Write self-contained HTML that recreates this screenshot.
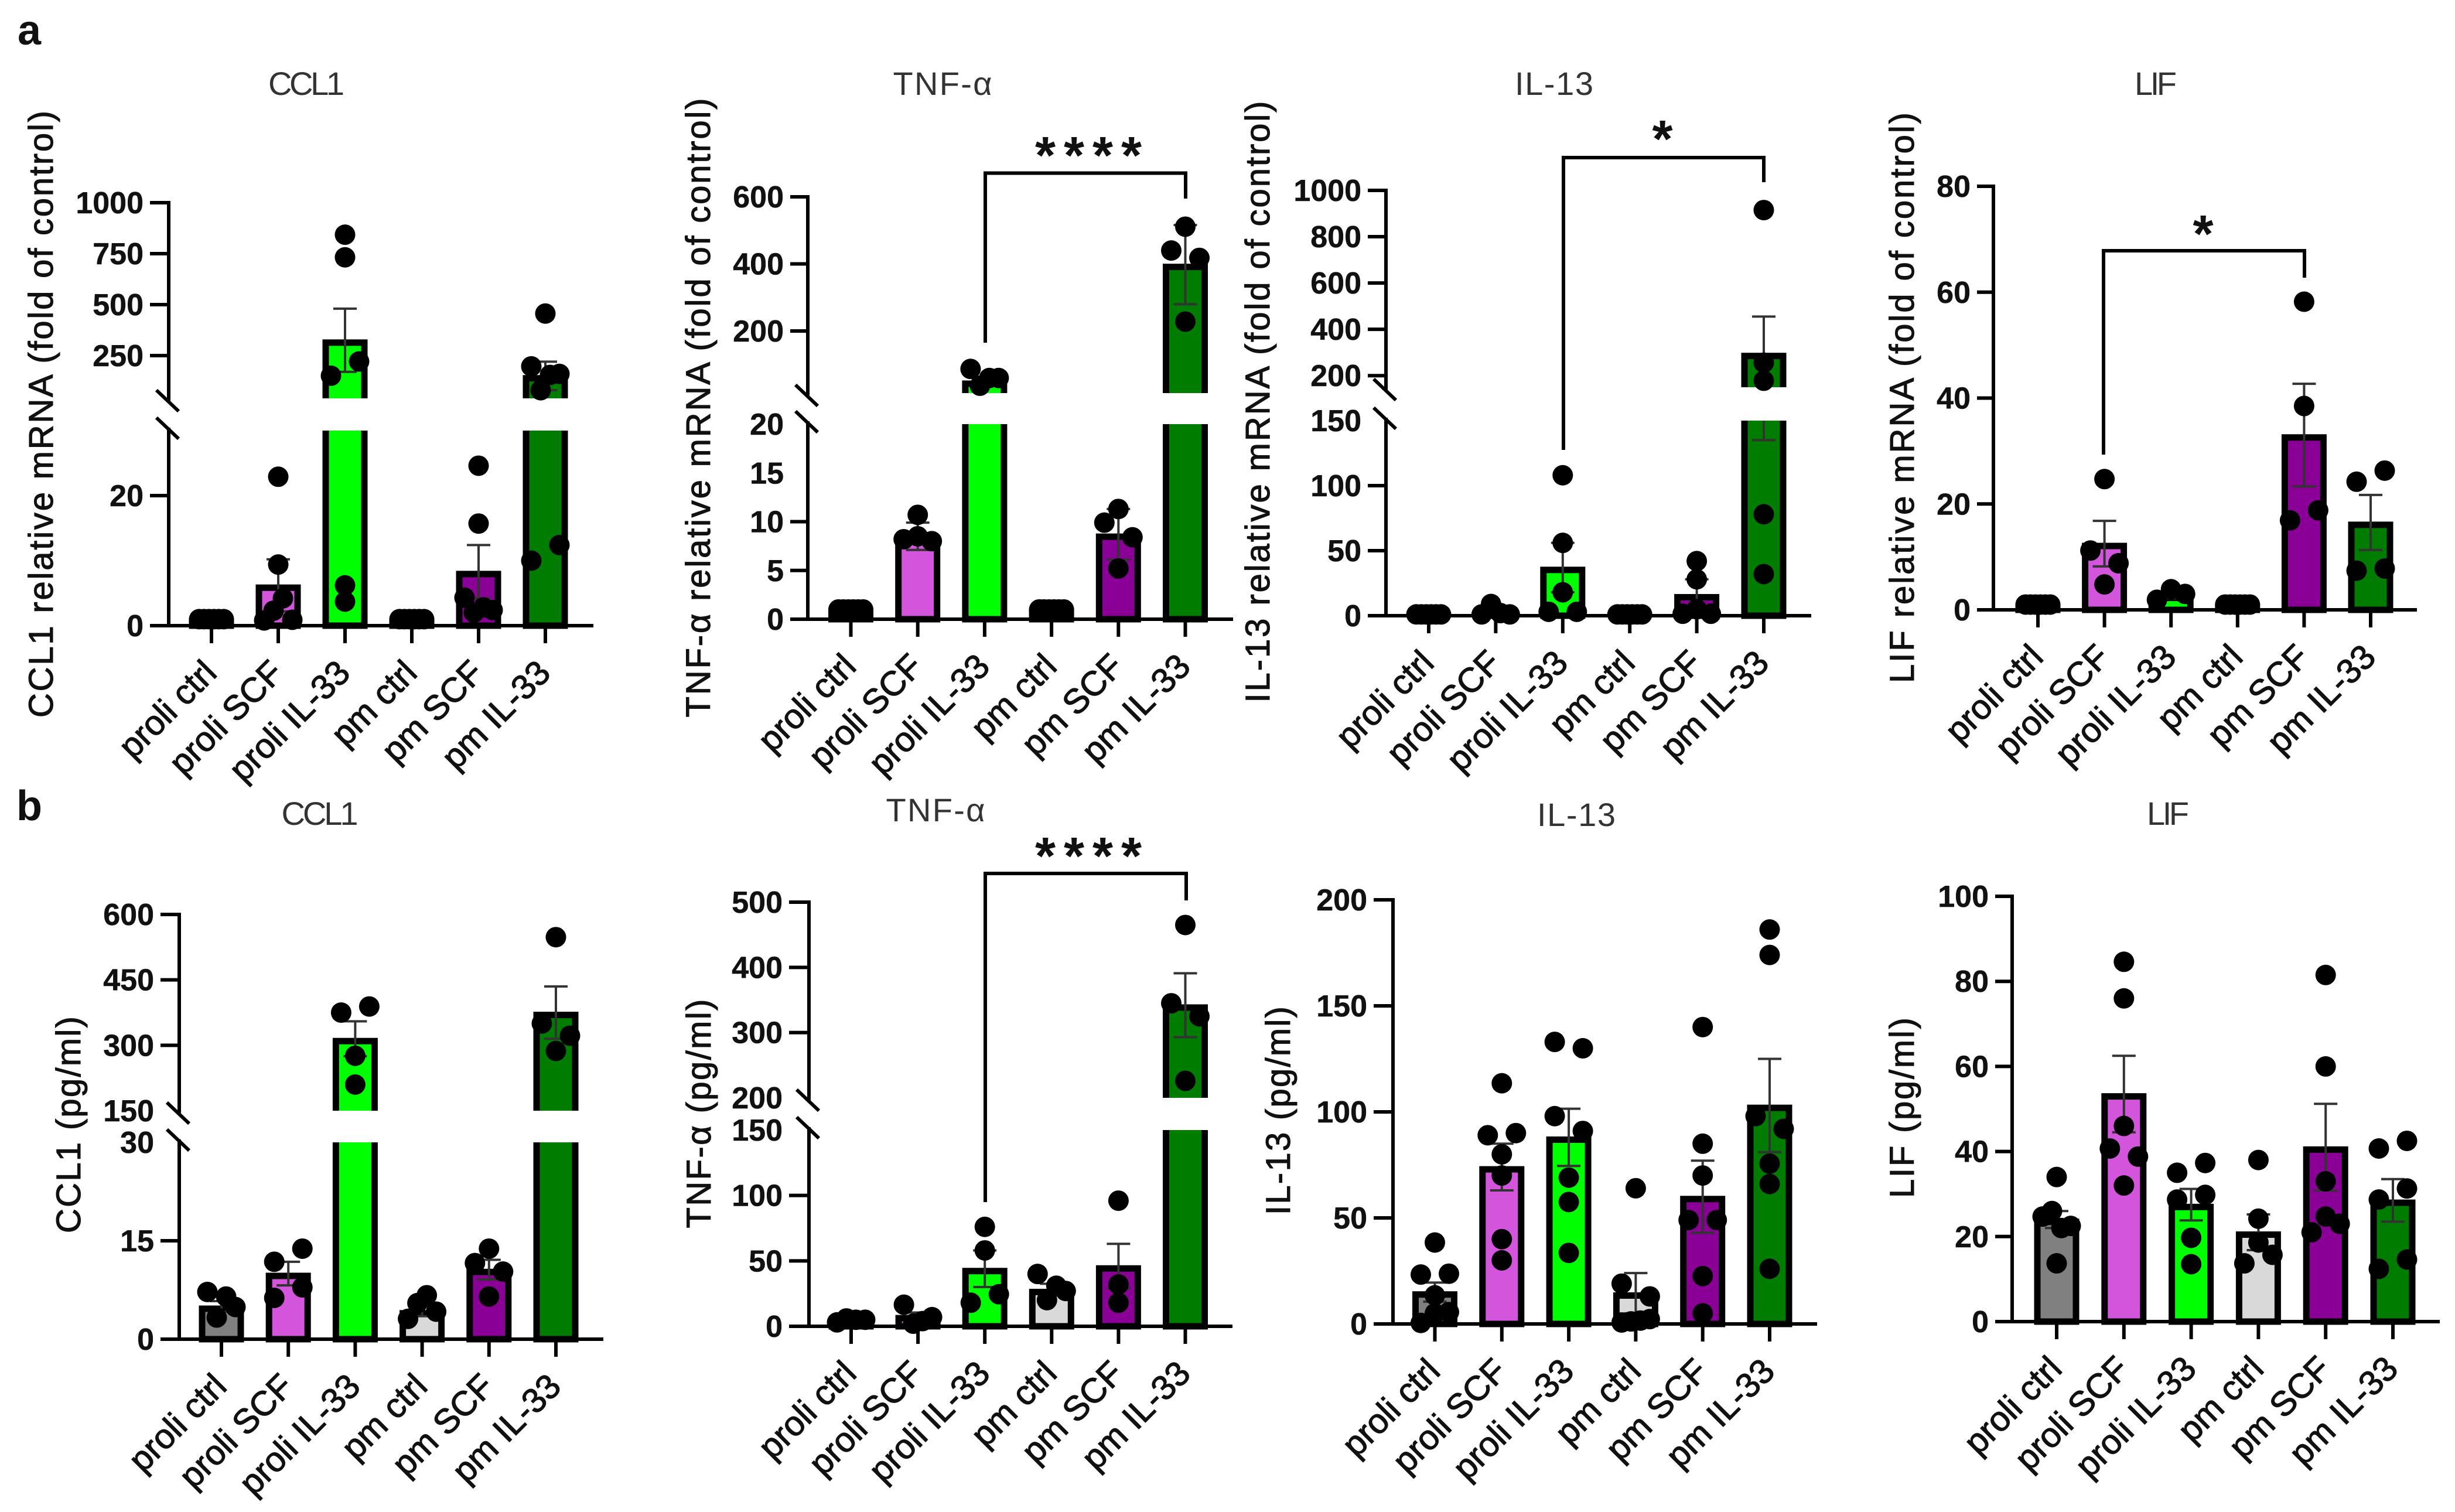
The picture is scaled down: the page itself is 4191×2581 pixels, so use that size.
<!DOCTYPE html>
<html lang="en">
<head>
<meta charset="utf-8">
<title>Cytokine mRNA and protein bar charts</title>
<style>
html,body{margin:0;padding:0;background:#fff;}
svg{display:block;}
text{font-family:"Liberation Sans",Arial,sans-serif;}
.panel-letter{font-size:72px;font-weight:bold;fill:#111;}
.chart-title{font-size:56px;fill:#333;text-anchor:middle;}
.y-title{font-size:58px;fill:#111;text-anchor:middle;stroke:#111;stroke-width:1.1px;}
.stars{font-size:90px;font-weight:bold;fill:#111;text-anchor:middle;}
.bracket{fill:none;stroke:#000;stroke-width:6px;}
.tick-label{font-size:52px;font-weight:bold;fill:#111;text-anchor:end;stroke:#111;stroke-width:.5px;}
.cat-label{font-size:59px;fill:#111;text-anchor:end;stroke:#111;stroke-width:1.2px;}
</style>
</head>
<body>
<svg id="figure" width="4191" height="2581" viewBox="0 0 4191 2581" xmlns="http://www.w3.org/2000/svg">
  <rect width="4191" height="2581" fill="#fff"/>
  <text class="panel-letter" x="30" y="76">a</text>
  <text class="panel-letter" x="28" y="1400">b</text>

  <text class="chart-title" x="523" y="162" textLength="130">CCL1</text>
  <text class="chart-title" x="1609" y="162" textLength="169">TNF-α</text>
  <text class="chart-title" x="2653" y="162" textLength="134">IL-13</text>
  <text class="chart-title" x="3680" y="162" textLength="72">LIF</text>
  <text class="chart-title" x="546" y="1408" textLength="131">CCL1</text>
  <text class="chart-title" x="1597" y="1402" textLength="169">TNF-α</text>
  <text class="chart-title" x="2691" y="1410" textLength="134">IL-13</text>
  <text class="chart-title" x="3701" y="1408" textLength="72">LIF</text>

  <text class="y-title" transform="translate(90,707) rotate(-90)" textLength="1036">CCL1 relative mRNA (fold of control)</text>
  <text class="y-title" transform="translate(1212,696) rotate(-90)" textLength="1057">TNF-α relative mRNA (fold of control)</text>
  <text class="y-title" transform="translate(2167,686) rotate(-90)" textLength="1027">IL-13 relative mRNA (fold of control)</text>
  <text class="y-title" transform="translate(3267,679) rotate(-90)" textLength="974">LIF relative mRNA (fold of control)</text>
  <text class="y-title" transform="translate(137,1920) rotate(-90)" textLength="370">CCL1 (pg/ml)</text>
  <text class="y-title" transform="translate(1213,1901) rotate(-90)" textLength="391">TNF-α (pg/ml)</text>
  <text class="y-title" transform="translate(2202,1896) rotate(-90)" textLength="356">IL-13 (pg/ml)</text>
  <text class="y-title" transform="translate(3267,1891) rotate(-90)" textLength="308">LIF (pg/ml)</text>

  <g id="charts"></g>

  <path class="bracket" d="M1682 585V295.500H2024V339"/>
  <text class="stars" x="1858" y="296" textLength="182">****</text>
  <path class="bracket" d="M2669 768V269H3011V311"/>
  <text class="stars" x="2838" y="268">*</text>
  <path class="bracket" d="M3591 776V428H3934V474"/>
  <text class="stars" x="3761" y="430">*</text>
  <path class="bracket" d="M1682 2052V1491H2025V1537"/>
  <text class="stars" x="1858" y="1492" textLength="182">****</text>
</svg>

<script>
const categories = ['proli ctrl', 'proli SCF', 'proli IL-33', 'pm ctrl', 'pm SCF', 'pm IL-33'];
const categorySlugs = ['proli-ctrl', 'proli-scf', 'proli-il33', 'pm-ctrl', 'pm-scf', 'pm-il33'];
const barColors = ['#808080', '#d355dc', '#00ff00', '#d9d9d9', '#8a0096', '#007d00'];

const mrnaCcl1Means = [1, 6.2, 325, 1, 8.3, 150];
const mrnaCcl1Sems = [0, 4, 155, 0, 4.1, 70];
const mrnaCcl1Points = [[1, 1, 1, 1, 1, 1], [22.9, 9.4, 0.8, 2.3, 4.2, 0.9], [843, 732, 151, 221, 6.2, 3.7], [1, 1, 1, 1, 1, 1], [24.6, 15.7, 4.3, 2, 2.8, 2.4], [456, 197, 80, 155, 160, 10, 12.4]];
const mrnaCcl1Ticks = [0, 20, 250, 500, 750, 1000];
const mrnaCcl1LowerDomain = [0, 30];
const mrnaCcl1UpperDomain = [40, 1000];

const mrnaTnfMeans = [1, 8.5, 50, 1, 8.7, 398];
const mrnaTnfSems = [0, 1.4, 12, 0, 2.6, 118];
const mrnaTnfPoints = [[1, 1, 1, 1, 1, 1], [10.7, 8.2, 8.5, 8], [87, 37, 60, 60], [1, 1, 1, 1, 1, 1], [9.9, 11.3, 8.4, 5.2], [511, 440, 418, 228]];
const mrnaTnfTicks = [0, 5, 10, 15, 20, 200, 400, 600];
const mrnaTnfLowerDomain = [0, 20];
const mrnaTnfUpperDomain = [15, 600];

const mrnaIl13Means = [1, 4, 37, 1, 16, 295];
const mrnaIl13Sems = [0, 1.5, 19, 0, 12, 160];
const mrnaIl13Points = [[1, 1, 1, 1, 1, 1], [1, 9, 2, 1], [108, 56, 18, 3, 3], [1, 1, 1, 1, 1, 1], [42, 28, 1.5, 5, 1.5], [915, 256, 178, 78, 32]];
const mrnaIl13Ticks = [0, 50, 100, 150, 200, 400, 600, 800, 1000];
const mrnaIl13LowerDomain = [0, 150];
const mrnaIl13UpperDomain = [150, 1000];

const mrnaLifMeans = [1, 12.5, 2.7, 1, 33, 16.5];
const mrnaLifSems = [0, 4.3, 0.5, 0, 9.7, 5.2];
const mrnaLifPoints = [[1, 1, 1, 1, 1, 1], [24.7, 11.2, 8.8, 4.8], [1.9, 3.9, 3], [1, 1, 1, 1, 1, 1], [58.2, 38.5, 16.9, 18.8], [24.2, 26.3, 7.4, 7.8]];
const mrnaLifTicks = [0, 20, 40, 60, 80];
const mrnaLifLowerDomain = [0, 80];

const proteinCcl1Means = [5, 10, 315, 4.3, 10.6, 375];
const proteinCcl1Sems = [0.8, 1.8, 40, 0.8, 1.5, 60];
const proteinCcl1Points = [[7.2, 3.3, 6.5, 4.9], [11.8, 13.8, 6.3, 7.9], [375, 389, 276, 210], [3.1, 5.5, 6.7, 4.2], [11.6, 13.8, 10.3, 6.5], [548, 350, 287, 322]];
const proteinCcl1Ticks = [0, 15, 30, 150, 300, 450, 600];
const proteinCcl1LowerDomain = [0, 30];
const proteinCcl1UpperDomain = [150, 600];

const proteinTnfMeans = [5, 8, 44, 28, 46, 342];
const proteinTnfSems = [1, 2.5, 14, 4.5, 17, 49];
const proteinTnfPoints = [[3, 6, 5, 5], [16.5, 2, 4, 7], [76, 58, 18, 24.5], [40, 20, 31, 27], [96, 18, 32], [465, 345, 325, 226]];
const proteinTnfTicks = [0, 50, 100, 150, 200, 300, 400, 500];
const proteinTnfLowerDomain = [0, 150];
const proteinTnfUpperDomain = [200, 500];

const proteinIl13Means = [15, 74, 88, 14.5, 60, 103];
const proteinIl13Sems = [4.5, 11, 13.5, 9.5, 17, 22];
const proteinIl13Points = [[38.4, 23.3, 23.7, 13.5, 0.5, 5, 5.6], [113.5, 89, 90, 80, 70, 40, 30], [133, 130, 98, 91, 69, 57.5, 33.5], [64, 19, 13, 0.7, 1.2, 1.6, 2.3], [140, 85, 70, 49, 49, 22.6, 5], [186, 174, 98, 92, 75.6, 66, 26]];
const proteinIl13Ticks = [0, 50, 100, 150, 200];
const proteinIl13LowerDomain = [0, 200];

const proteinLifMeans = [24, 53.5, 27.5, 21, 41, 28.5];
const proteinLifSems = [2, 9, 3.7, 4.2, 10.2, 5];
const proteinLifPoints = [[34, 24.7, 26, 22, 22.5, 13.7], [84.6, 76, 46, 40.7, 38.8, 32], [35, 37.3, 28.7, 29.8, 19.7, 13.5], [38, 24.2, 13.7, 18.6, 15.7], [81.5, 60, 33, 21, 24.7, 23], [40.7, 42.5, 28.7, 31.3, 12.4, 14.6]];
const proteinLifTicks = [0, 20, 40, 60, 80, 100];
const proteinLifLowerDomain = [0, 100];

const SVG_NS = 'http://www.w3.org/2000/svg';
const BAR_OUTER = 77, BAR_STROKE = 11, BAR_TOP_SHIFT = 4, CAP = 20, DOT_R = 17.500, CLUSTER_GAP = 27;

const panels = [
  {id: 'mrna-ccl1', means: mrnaCcl1Means, sems: mrnaCcl1Sems, points: mrnaCcl1Points, ticks: mrnaCcl1Ticks, lowerDomain: mrnaCcl1LowerDomain, upperDomain: mrnaCcl1UpperDomain,
   axisX: 288, tickLeft: 256, baseRight: 1013, catStart: 361, catStep: 114, lowerRange: [1068, 735], upperRange: [680, 346]},
  {id: 'mrna-tnf', means: mrnaTnfMeans, sems: mrnaTnfSems, points: mrnaTnfPoints, ticks: mrnaTnfTicks, lowerDomain: mrnaTnfLowerDomain, upperDomain: mrnaTnfUpperDomain,
   axisX: 1379, tickLeft: 1349, baseRight: 2105, catStart: 1452.500, catStep: 114.200, lowerRange: [1057, 724], upperRange: [671, 336]},
  {id: 'mrna-il13', means: mrnaIl13Means, sems: mrnaIl13Sems, points: mrnaIl13Points, ticks: mrnaIl13Ticks, lowerDomain: mrnaIl13LowerDomain, upperDomain: mrnaIl13UpperDomain,
   axisX: 2366, tickLeft: 2335, baseRight: 3092, catStart: 2439, catStep: 114.400, lowerRange: [1051, 718], upperRange: [661, 325]},
  {id: 'mrna-lif', means: mrnaLifMeans, sems: mrnaLifSems, points: mrnaLifPoints, ticks: mrnaLifTicks, lowerDomain: mrnaLifLowerDomain,
   axisX: 3403, tickLeft: 3375, baseRight: 4126, catStart: 3479, catStep: 113.600, lowerRange: [1041, 318]},
  {id: 'protein-ccl1', means: proteinCcl1Means, sems: proteinCcl1Sems, points: proteinCcl1Points, ticks: proteinCcl1Ticks, lowerDomain: proteinCcl1LowerDomain, upperDomain: proteinCcl1UpperDomain,
   axisX: 306, tickLeft: 274, baseRight: 1030, catStart: 378, catStep: 114.200, lowerRange: [2286, 1950], upperRange: [1896, 1561]},
  {id: 'protein-tnf', means: proteinTnfMeans, sems: proteinTnfSems, points: proteinTnfPoints, ticks: proteinTnfTicks, lowerDomain: proteinTnfLowerDomain, upperDomain: proteinTnfUpperDomain,
   axisX: 1381, tickLeft: 1347, baseRight: 2104, catStart: 1453, catStep: 114.100, lowerRange: [2264, 1929], upperRange: [1874, 1540]},
  {id: 'protein-il13', means: proteinIl13Means, sems: proteinIl13Sems, points: proteinIl13Points, ticks: proteinIl13Ticks, lowerDomain: proteinIl13LowerDomain,
   axisX: 2378, tickLeft: 2345, baseRight: 3102, catStart: 2449.500, catStep: 114.300, lowerRange: [2260, 1536]},
  {id: 'protein-lif', means: proteinLifMeans, sems: proteinLifSems, points: proteinLifPoints, ticks: proteinLifTicks, lowerDomain: proteinLifLowerDomain,
   axisX: 3435, tickLeft: 3406, baseRight: 4165, catStart: 3511, catStep: 114.800, lowerRange: [2256, 1530]}
];

function create(parent, tag, attrs) {
  const node = document.createElementNS(SVG_NS, tag);
  Object.keys(attrs).forEach(function (k) { node.setAttribute(k, attrs[k]); });
  parent.appendChild(node);
  return node;
}

function linear(domain, range) {
  return function (v) {
    return range[0] + (v - domain[0]) * (range[1] - range[0]) / (domain[1] - domain[0]);
  };
}

function makeYScale(panel) {
  const low = linear(panel.lowerDomain, panel.lowerRange);
  if (!panel.upperDomain) return low;
  const up = linear(panel.upperDomain, panel.upperRange);
  return function (v) {
    return v <= panel.lowerDomain[1] ? low(v) : up(Math.max(v, panel.upperDomain[0]));
  };
}

function swarmOffsets(values, y) {
  const order = values.map(function (v, i) { return i; }).sort(function (a, b) { return y(values[a]) - y(values[b]); });
  const offsets = new Array(values.length).fill(0);
  let cluster = [];
  function flush() {
    cluster.sort(function (a, b) { return a - b; });
    const n = cluster.length;
    const spread = n >= 5 ? 21 : 24;
    cluster.forEach(function (idx, i) {
      offsets[idx] = n === 1 ? 0 : -spread + i * 2 * spread / (n - 1);
    });
    cluster = [];
  }
  order.forEach(function (idx, pos) {
    if (pos > 0 && y(values[idx]) - y(values[order[pos - 1]]) >= CLUSTER_GAP) flush();
    cluster.push(idx);
  });
  flush();
  return offsets;
}

function drawPanel(panel) {
  const root = document.getElementById('charts');
  const y = makeYScale(panel);
  const x = function (i) { return panel.catStart + i * panel.catStep; };
  const base = panel.lowerRange[0];

  const group = create(root, 'g', {});
  
  

  categories.forEach(function (cat, i) {
    const top = Math.min(y(panel.means[i]) + BAR_TOP_SHIFT, base);
    const bar = create(group, 'rect', {
      x: x(i) - BAR_OUTER / 2 + BAR_STROKE / 2,
      y: top,
      width: BAR_OUTER - BAR_STROKE,
      height: base - top,
      fill: barColors[i], stroke: '#000', 'stroke-width': BAR_STROKE
    });
    
    
  });

  categories.forEach(function (cat, i) {
    const hi = y(panel.means[i] + panel.sems[i]);
    const lo = y(panel.means[i] - panel.sems[i]);
    const err = create(group, 'path', {
      d: 'M' + (x(i) - CAP) + ' ' + hi + 'H' + (x(i) + CAP) + 'M' + x(i) + ' ' + hi + 'V' + lo + 'M' + (x(i) - CAP) + ' ' + lo + 'H' + (x(i) + CAP),
      fill: 'none', stroke: '#333', 'stroke-width': 4
    });
    
    
  });

  if (panel.upperDomain) {
    const gap = create(group, 'rect', {
      x: panel.axisX + 6,
      y: panel.upperRange[0],
      width: panel.baseRight - panel.axisX - 6,
      height: panel.lowerRange[1] - panel.upperRange[0],
      fill: '#fff'
    });
    
    
  }

  const axisPath = panel.upperDomain
    ? 'M' + panel.axisX + ' ' + (base + 3) + 'V' + (panel.lowerRange[1] - 5) + 'M' + panel.axisX + ' ' + (panel.upperRange[0] + 4) + 'V' + (panel.upperRange[1] - 3)
    : 'M' + panel.axisX + ' ' + (base + 3) + 'V' + (panel.lowerRange[1] - 3);
  const yAxis = create(group, 'path', {d: axisPath, fill: 'none', stroke: '#000', 'stroke-width': 6});
  
  

  const xAxis = create(group, 'path', {d: 'M' + panel.tickLeft + ' ' + base + 'H' + panel.baseRight, fill: 'none', stroke: '#000', 'stroke-width': 6});
  
  

  if (panel.upperDomain) {
    [panel.upperRange[0] + 4, panel.lowerRange[1] - 4].forEach(function (cy) {
      const mark = create(group, 'path', {
        d: 'M' + (panel.axisX - 21) + ' ' + (cy - 18) + 'L' + (panel.axisX + 17) + ' ' + (cy + 18),
        fill: 'none', stroke: '#000', 'stroke-width': 6
      });
      
      
    });
  }

  panel.ticks.forEach(function (t) {
    const yy = y(t);
    const atBreak = panel.upperDomain && (t === panel.lowerDomain[1] || t === panel.upperDomain[0]);
    if (!atBreak) {
      const tick = create(group, 'path', {d: 'M' + panel.tickLeft + ' ' + yy + 'H' + panel.axisX, fill: 'none', stroke: '#000', 'stroke-width': 6});
      
      
    }
    const label = create(group, 'text', {'class': 'tick-label', x: panel.tickLeft - 11, y: yy + 18});
    label.textContent = String(t);
    
    
  });

  categories.forEach(function (cat, i) {
    const tick = create(group, 'path', {d: 'M' + x(i) + ' ' + base + 'V' + (base + 30), fill: 'none', stroke: '#000', 'stroke-width': 6});
    
    
    const label = create(group, 'text', {'class': 'cat-label', transform: 'translate(' + (x(i) + 12) + ',' + (base + 84) + ') rotate(-45)'});
    label.textContent = cat;
    
    
  });

  panel.points.forEach(function (values, i) {
    const offsets = swarmOffsets(values, y);
    values.forEach(function (v, j) {
      const dot = create(group, 'circle', {cx: x(i) + offsets[j], cy: y(v), r: DOT_R, fill: '#000'});
      
      
    });
  });
}

panels.forEach(drawPanel);
</script>
</body>
</html>
